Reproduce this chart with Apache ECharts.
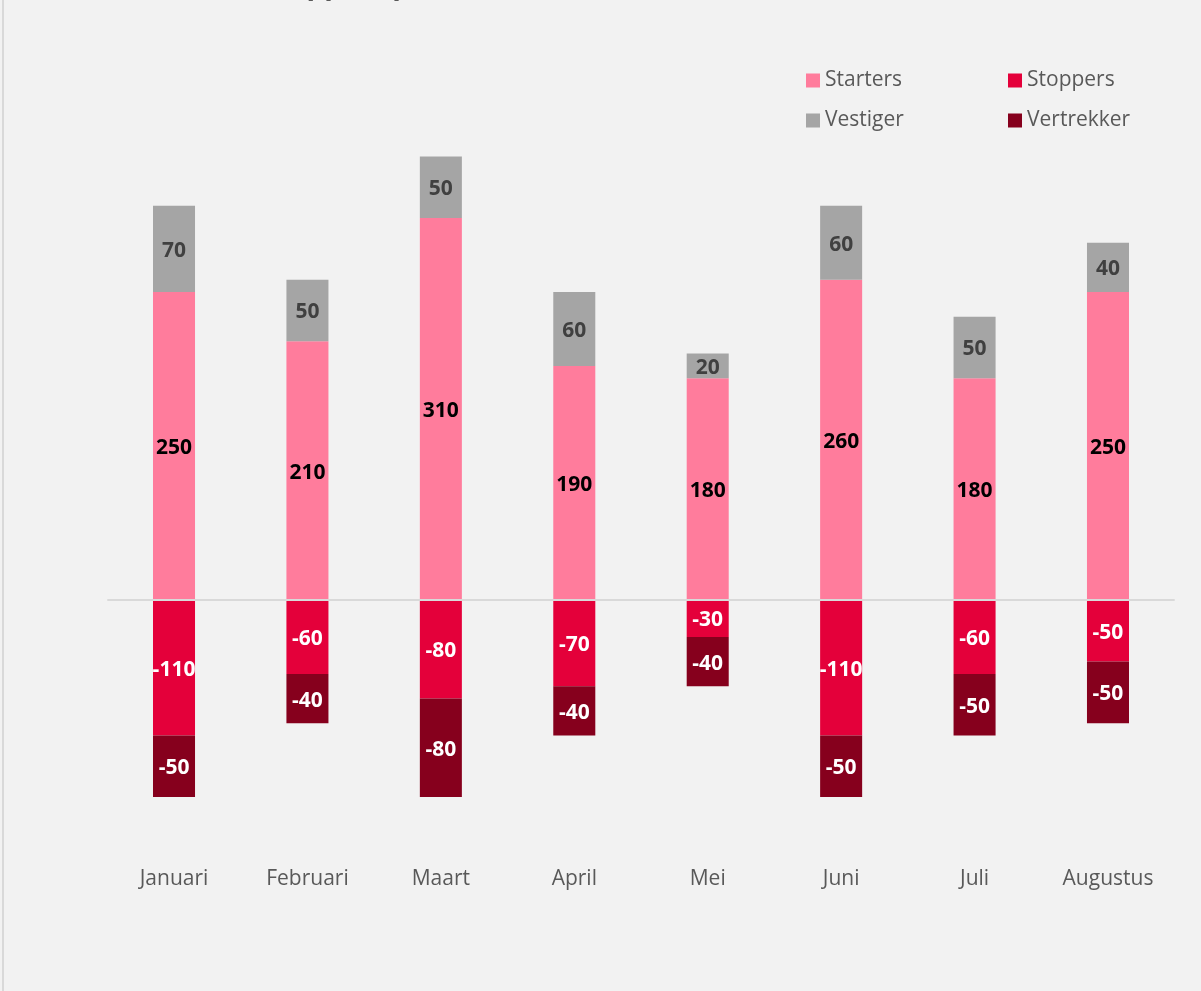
<!DOCTYPE html>
<html>
<head>
<meta charset="utf-8">
<script src="https://cdn.jsdelivr.net/npm/echarts@6/dist/echarts.min.js"></script>
<style>
html,body{margin:0;padding:0;background:#f2f2f2;}
#chart{width:1201px;height:991px;}
</style>
</head>
<body>
<div id="chart"></div>
<script>
var categories = ['Januari','Februari','Maart','April','Mei','Juni','Juli','Augustus'];
var starters   = [250, 210, 310, 190, 180, 260, 180, 250];
var vestiger   = [70, 50, 50, 60, 20, 60, 50, 40];
var stoppers   = [-110, -60, -80, -70, -30, -110, -60, -50];
var vertrekker = [-50, -40, -80, -40, -40, -50, -50, -50];
var titleText = 'Starters en stoppers per maand in 2024 (aantal)';

var FONT = '"Open Sans", "Noto Sans", sans-serif';
var chart = echarts.init(document.getElementById('chart'));

function lbl(color) {
  return {show: true, position: 'inside', offset: [0, 2], color: color, fontWeight: 'bold', fontSize: 21, fontFamily: FONT};
}
function legendAt(name, left, top) {
  return {
    data: [name], left: left, top: top, icon: 'rect', itemWidth: 14, itemHeight: 14, itemGap: 0,
    padding: 0, selectedMode: false,
    textStyle: {color: '#595959', fontSize: 21, fontFamily: FONT}
  };
}

var option = {
  backgroundColor: '#f2f2f2',
  animation: false,
  title: {
    text: titleText, left: 96, top: -33,
    textStyle: {fontSize: 28, fontWeight: 'bold', color: '#595959', fontFamily: FONT}
  },
  graphic: [{
    type: 'rect', silent: true, z: -1,
    shape: {x: 3, y: -10, width: 1400, height: 1200},
    style: {fill: 'none', stroke: '#d9d9d9', lineWidth: 2}
  }],
  legend: [
    legendAt('Starters', 806, 70),
    legendAt('Stoppers', 1008, 70),
    legendAt('Vestiger', 806, 110),
    legendAt('Vertrekker', 1008, 110)
  ],
  grid: {left: 107.3, right: 26.3, top: 107.2, bottom: 144.6, containLabel: false},
  xAxis: {
    type: 'category', data: categories, position: 'bottom',
    axisLine: {show: false, onZero: false}, axisTick: {show: false},
    axisLabel: {color: '#595959', fontSize: 21, fontFamily: FONT, margin: 22}
  },
  yAxis: {
    type: 'value', min: -200, max: 400, interval: 200, show: false,
    splitLine: {show: false}
  },
  series: [
    {
      name: 'Starters', type: 'bar', stack: 'a', data: starters, barWidth: '31.5%',
      itemStyle: {color: '#ff7c9c'}, label: lbl('#000000'),
      markLine: {
        silent: true, symbol: ['none','none'], label: {show: false},
        lineStyle: {color: '#d9d9d9', width: 2, type: 'solid'},
        data: [{yAxis: 0}]
      }
    },
    {
      name: 'Vestiger', type: 'bar', stack: 'a', data: vestiger, barWidth: '31.5%',
      itemStyle: {color: '#a5a5a5'}, label: lbl('#404040')
    },
    {
      name: 'Stoppers', type: 'bar', stack: 'a', data: stoppers, barWidth: '31.5%',
      itemStyle: {color: '#e4003a'}, label: lbl('#ffffff')
    },
    {
      name: 'Vertrekker', type: 'bar', stack: 'a', data: vertrekker, barWidth: '31.5%',
      itemStyle: {color: '#86001d'}, label: lbl('#ffffff')
    }
  ]
};
chart.setOption(option);
</script>
</body>
</html>
